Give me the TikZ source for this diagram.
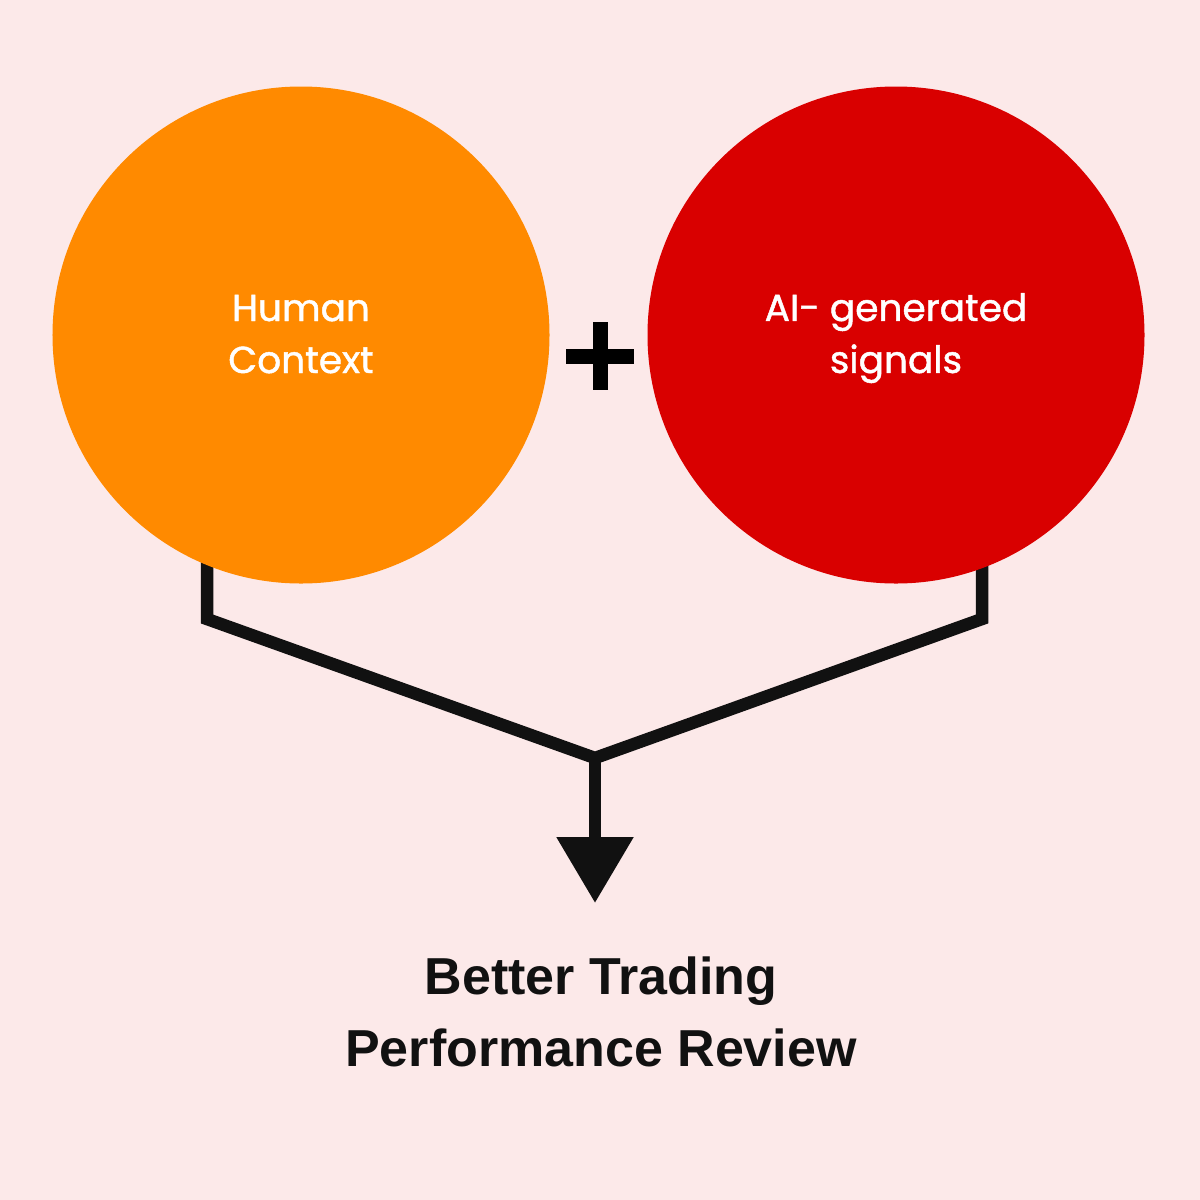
\documentclass[tikz,border=0pt]{standalone}
\usepackage{fontspec}
\setmainfont{Liberation Sans}
\newfontfamily\circfont{Poppins}[FakeBold=1.2]
\usetikzlibrary{arrows.meta,backgrounds}
\definecolor{bgpink}{HTML}{FCE9E9}
\definecolor{horange}{HTML}{FF8A00}
\definecolor{aired}{HTML}{D90000}
\definecolor{inkblack}{HTML}{111111}
\newcommand{\topstrut}{\rule{0pt}{34bp}}
\newcommand{\botstrut}{\rule[-10bp]{0pt}{10bp}}
\tikzset{
  bubble/.style={circle, minimum size=497bp, inner sep=0pt, text=white, align=center,
    font=\circfont\fontsize{37.5bp}{52bp}\selectfont},
  conn/.style={draw=inkblack, line width=12.5bp, line join=miter},
  plusbar/.style={fill=black},
  result/.style={align=center, text=inkblack, font=\bfseries\fontsize{52bp}{72bp}\selectfont}
}
\begin{document}
\begin{tikzpicture}[x=1bp,y=-1bp]
\useasboundingbox (0,0) rectangle (1200,1200);
\node[bubble, fill=horange] (hc) at (301,335) {\topstrut Human\\Context\botstrut};
\node[bubble, fill=aired] (ai) at (896,335) {\topstrut AI- generated\\signals\botstrut};
\node[result] (res) at (601,1012) {Better Trading\\Performance Review};
\coordinate (ls) at (207,520);
\coordinate (lc) at (207,619);
\coordinate (j) at (595,758);
\coordinate (rc) at (982,619);
\coordinate (rs) at (982,520);
\coordinate (tip) at (595,903);
\begin{scope}[on background layer]
  \fill[bgpink] (0,0) rectangle (1200,1200);
  \draw[conn] (ls) -- (lc) -- (j) -- (rc) -- (rs);
  \draw[conn, -{Triangle[width=74bp,length=66bp]}] (j) -- (tip);
\end{scope}
% plus sign
\fill[plusbar] (566,349) rectangle (634,364);
\fill[plusbar] (593,322) rectangle (608,390);
\end{tikzpicture}
\end{document}
